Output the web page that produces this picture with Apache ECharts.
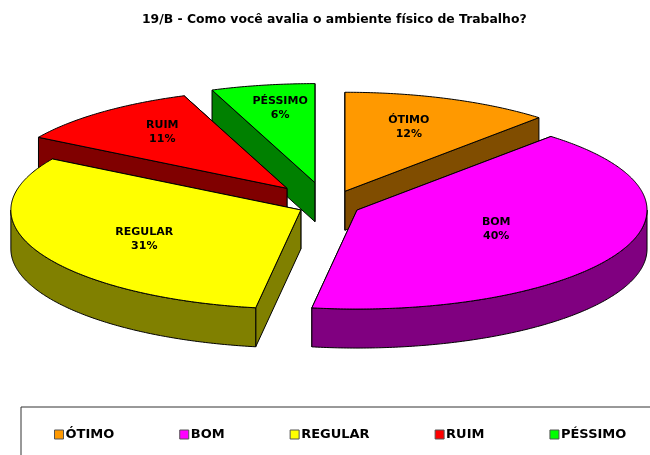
<!DOCTYPE html>
<html><head><meta charset="utf-8">
<style>html,body{margin:0;padding:0;background:#fff}#c{width:650px;height:455px}</style>
<script src="https://cdn.jsdelivr.net/npm/echarts@6/dist/echarts.min.js"></script>
</head><body><div id="c"></div>
<script>
const titleText = '19/B - Como você avalia o ambiente físico de Trabalho?';
const categories = ['ÓTIMO', 'BOM', 'REGULAR', 'RUIM', 'PÉSSIMO'];
const values = [12, 40, 31, 11, 6];

const topColors = ['#FF9900', '#FF00FF', '#FFFF00', '#FF0000', '#00FF00'];
const sideColors = ['#804D00', '#800080', '#808000', '#800000', '#008000'];
const explode = [[0.154, 0.154], [0.107, 0.107], [0.107, 0.107], [0.226, 0.226], [0.27, 0.235]];
const labelShift = [[0.22, -0.65], [0.48, 0.19], [-0.54, 0.29], [-0.43, -0.57], [-0.12, -0.75]];
const drawOrder = [4, 0, 3, 2, 1];
const pie = { cx: 329, cy: 205.5, rx: 290, ry: 99, depth: 39 };
const FONT = '"DejaVu Sans", Verdana, sans-serif';

const total = values.reduce((a, b) => a + b, 0);
const starts = [];
values.reduce((acc, v, i) => { starts[i] = acc; return acc + v / total * Math.PI * 2; }, 0);

// Small angular distortion imitating the 3D projection of the original pie.
function warp(t) {
  return t + (-2.1 * Math.sin(t) + 1.5 * (1 - Math.cos(t)) / 2) * Math.PI / 180;
}
function rim(apex, t) {
  return [apex[0] + pie.rx * Math.sin(t), apex[1] - pie.ry * Math.cos(t)];
}
function arc(apex, a0, a1) {
  const n = Math.max(2, Math.ceil((a1 - a0) / 0.01));
  const pts = [];
  for (let k = 0; k <= n; k++) pts.push(rim(apex, a0 + (a1 - a0) * k / n));
  return pts;
}
const down = p => [p[0], p[1] + pie.depth];
function poly(points, fill) {
  return { type: 'polygon', shape: { points }, style: { fill, stroke: '#000', lineWidth: 1, lineJoin: 'round' } };
}

function makeRender(i) {
  return function () {
    const a0 = warp(starts[i]), a1 = warp(starts[i] + values[i] / total * Math.PI * 2), mid = (a0 + a1) / 2;
    const apex = [pie.cx + explode[i][0] * pie.rx * Math.sin(mid), pie.cy - explode[i][1] * pie.ry * Math.cos(mid)];
    const side = sideColors[i], children = [];
    // radial walls, the one further back first
    [a0, a1].map(t => rim(apex, t)).sort((p, q) => p[1] - q[1]).forEach(p => {
      children.push(poly([apex, p, down(p), down(apex)], side));
    });
    const f0 = Math.max(a0, Math.PI / 2), f1 = Math.min(a1, Math.PI * 1.5);
    if (f1 > f0) {
      const e = arc(apex, f0, f1);
      children.push(poly(e.concat(e.map(down).reverse()), side));
    }
    children.push(poly([apex].concat(arc(apex, a0, a1)), topColors[i]));
    children.push({
      type: 'text', z2: 10,
      style: {
        x: apex[0] + labelShift[i][0] * pie.rx,
        y: apex[1] + labelShift[i][1] * pie.ry,
        text: categories[i] + '\n' + values[i] + '%',
        align: 'center', verticalAlign: 'middle', lineHeight: 14,
        font: 'bold 11px ' + FONT, fill: '#000'
      }
    });
    return { type: 'group', children };
  };
}

const chart = echarts.init(document.getElementById('c'), null, { renderer: 'canvas' });
chart.setOption({
  animation: false,
  backgroundColor: '#fff',
  title: {
    text: titleText, left: 142, top: 14, padding: 0,
    textStyle: { fontFamily: FONT, fontSize: 12.4, fontWeight: 'bold', color: '#000' }
  },
  legend: {
    data: categories, left: 54, top: 428, padding: 0, itemGap: 65,
    icon: 'rect', itemWidth: 9, itemHeight: 9,
    itemStyle: { borderColor: '#555', borderWidth: 1 },
    textStyle: { fontFamily: FONT, fontSize: 13, fontWeight: 'bold', color: '#000', padding: [0, 0, 0, -3] },
    selectedMode: false
  },
  graphic: [{
    type: 'rect', left: 20.5, top: 406.5, silent: true,
    shape: { width: 660, height: 80 },
    style: { fill: 'transparent', stroke: '#333', lineWidth: 1 }
  }],
  series: drawOrder.map(i => ({
    type: 'custom', name: categories[i], coordinateSystem: 'none',
    data: [values[i]], itemStyle: { color: topColors[i] },
    renderItem: makeRender(i), silent: true
  }))
});
</script></body></html>
